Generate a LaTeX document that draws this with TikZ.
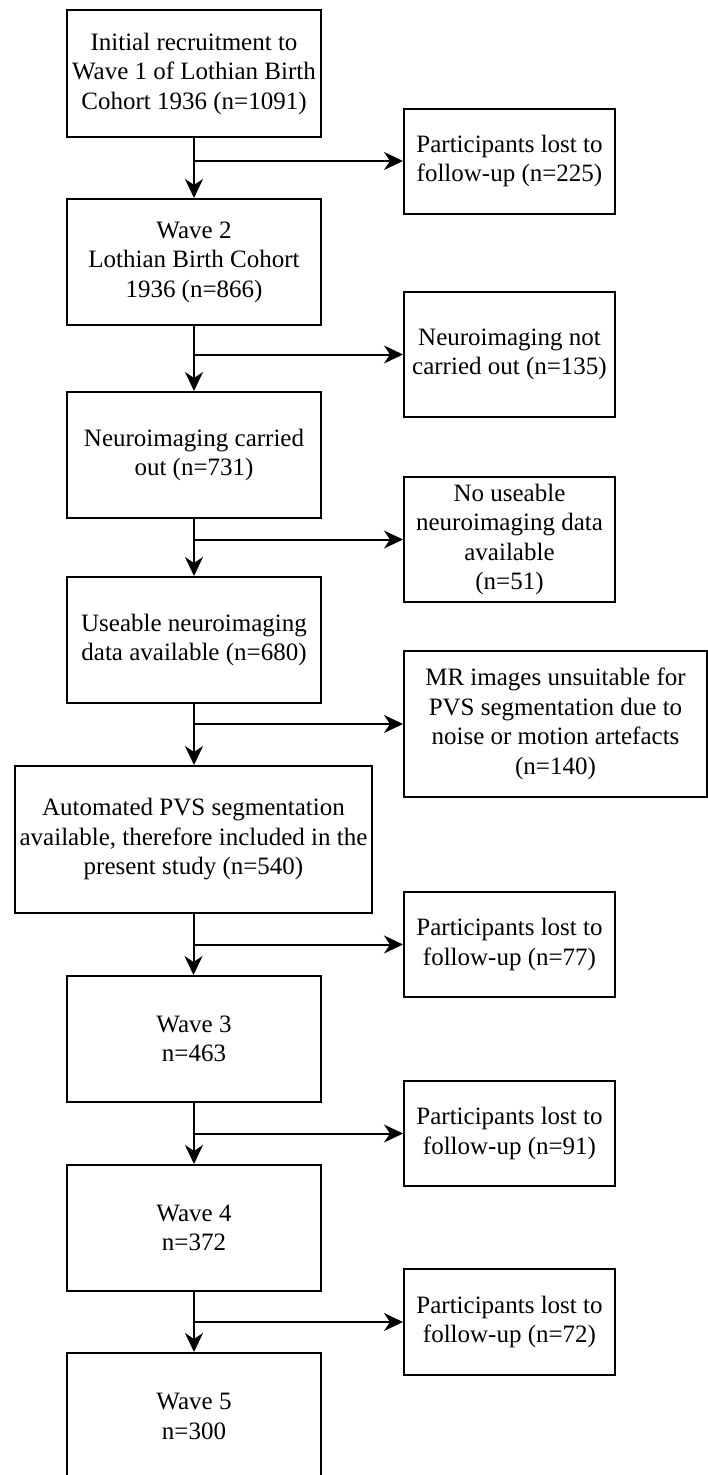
\documentclass[tikz,border=0pt]{standalone}
\usepackage{fontspec}
\setmainfont{Liberation Serif}
\usetikzlibrary{arrows.meta}
\tikzset{
  box/.style={draw, rectangle, line width=2pt, inner sep=0pt, align=center,
    font=\fontsize{25}{29.5}\selectfont},
  lbox/.style={box, minimum width=254pt, minimum height=126pt},
  rbox/.style={box, minimum width=211pt, minimum height=105pt},
  arr/.style={line width=2pt, -{Stealth[length=19pt,width=18pt,inset=6pt]}},
}
\begin{document}
\begin{tikzpicture}[x=1pt,y=-1pt]
\useasboundingbox (0,0) rectangle (708,1475);
\node[lbox, minimum height=127pt] (w1) at (194,73.5) {Initial recruitment to\\Wave 1 of Lothian Birth\\Cohort 1936 (n=1091)};
\node[rbox] (r1) at (509.5,161) {Participants lost to\\follow-up (n=225)};
\node[lbox] (w2) at (194,262) {Wave 2\\Lothian Birth Cohort\\1936 (n=866)};
\node[rbox, minimum height=125pt] (r2) at (509.5,354.5) {Neuroimaging not\\carried out (n=135)};
\node[lbox] (w3) at (194,455) {Neuroimaging carried\\out (n=731)};
\node[rbox, minimum height=125pt] (r3) at (509.5,539.5) {No useable\\neuroimaging data\\available\\(n=51)};
\node[lbox] (w4) at (194,640) {Useable neuroimaging\\data available (n=680)};
\node[box, minimum width=303pt, minimum height=146pt] (r4) at (555.5,724) {MR images unsuitable for\\PVS segmentation due to\\noise or motion artefacts\\(n=140)};
\node[box, minimum width=357pt, minimum height=147pt] (w5) at (193.5,839.5) {Automated PVS segmentation\\available, therefore included in the\\present study (n=540)};
\node[rbox] (r5) at (509.5,944.5) {Participants lost to\\follow-up (n=77)};
\node[lbox] (w6) at (194,1039) {Wave 3\\n=463};
\node[rbox] (r6) at (509.5,1133.5) {Participants lost to\\follow-up (n=91)};
\node[lbox] (w7) at (194,1228) {Wave 4\\n=372};
\node[rbox, minimum height=106pt] (r7) at (509.5,1322) {Participants lost to\\follow-up (n=72)};
\node[lbox, minimum height=127pt] (w8) at (194,1416.5) {Wave 5\\n=300};

\foreach \a/\b/\r in {w1/w2/r1, w2/w3/r2, w3/w4/r3, w4/w5/r4, w5/w6/r5, w6/w7/r6, w7/w8/r7}{
  \draw[arr] (\a.south) -- (\a.south |- \b.north);
  \coordinate (br-\r) at (\a.south |- \r.west);
  \draw[arr] (br-\r) -- (\r.west);
}
\end{tikzpicture}
\end{document}
